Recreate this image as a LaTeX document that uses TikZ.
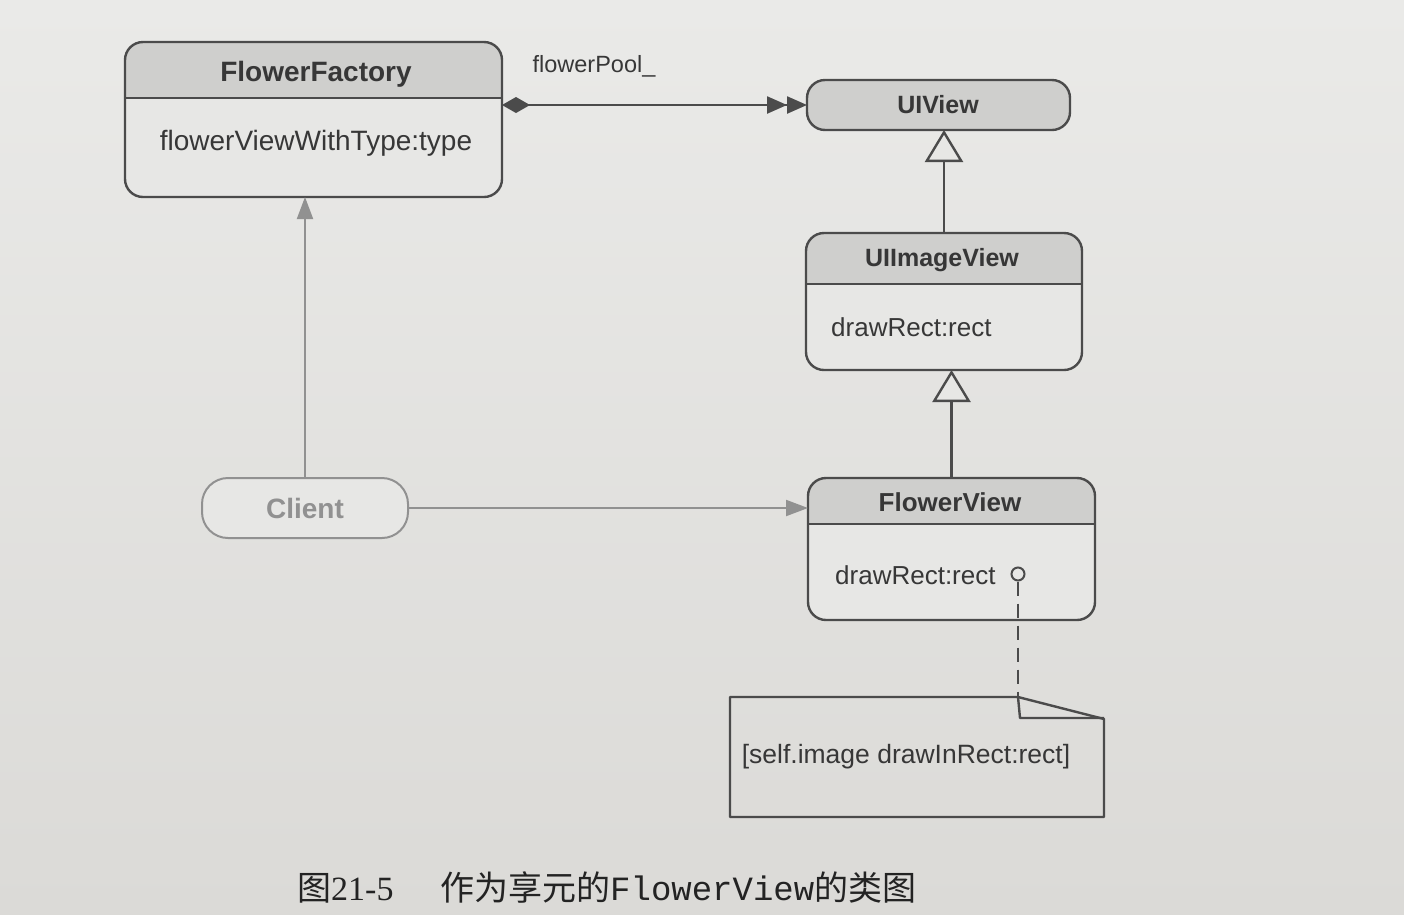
\documentclass[tikz,border=0pt]{standalone}
\usepackage{fontspec}
\setmainfont{Liberation Sans}
\newfontfamily\cjk{Noto Sans CJK SC}
\newfontfamily\capserif{Liberation Serif}
\newfontfamily\capmono{Liberation Mono}
\usetikzlibrary{arrows.meta,calc}
\definecolor{pagetop}{RGB}{234,234,232}
\definecolor{pagebot}{RGB}{219,218,215}
\definecolor{bodyc}{RGB}{231,231,229}
\definecolor{hdrc}{RGB}{207,207,205}
\definecolor{linec}{RGB}{75,75,75}
\definecolor{textc}{RGB}{55,55,55}
\definecolor{clientc}{RGB}{145,145,145}
\definecolor{capc}{RGB}{35,35,35}
\newcommand\classhead[2]{%
  \begin{scope}
    \clip[rounded corners=18pt] (#1.south west) rectangle (#1.north east);
    \fill[hdrc] (#1.north west) rectangle ([yshift=-#2pt]#1.north east);
  \end{scope}
  \draw[conn] ([yshift=-#2pt]#1.north west) -- ([yshift=-#2pt]#1.north east);
  \draw[conn, rounded corners=18pt] (#1.south west) rectangle (#1.north east);}
\begin{document}
\begin{tikzpicture}[x=1pt,y=-1pt,
  classbox/.style={fill=bodyc, inner sep=0pt, outer sep=0pt, rounded corners=18pt},
  conn/.style={draw=linec, line width=2.4pt},
  gconn/.style={draw=clientc, line width=2pt},
  titletext/.style={font=\fontsize{#1}{#1}\selectfont\bfseries, text=textc, inner sep=0pt},
  titletext/.default=25,
  methtext/.style={font=\fontsize{#1}{#1}\selectfont, text=textc, inner sep=0pt},
  methtext/.default=26,
  lbltext/.style={font=\fontsize{23.5}{26}\selectfont, text=textc, inner sep=0pt},
  gentri/.style={-{Triangle[open, length=32pt, width=38pt, fill=bodyc]}},
  gtip/.style={-{Triangle[length=22pt, width=16pt]}}
]
\useasboundingbox (0,0) rectangle (1404,914);
\shade[top color=pagetop, bottom color=pagebot] (0,0) rectangle (1404,914);

% class boxes
\node[classbox, minimum width=377pt, minimum height=155pt] (ff) at (313.5,119.5) {};
\node[classbox, fill=hdrc, minimum width=263pt, minimum height=50pt] (ui) at (938.5,105) {};
\node[classbox, minimum width=276pt, minimum height=137pt] (uiv) at (944,301.5) {};
\node[classbox, minimum width=287pt, minimum height=142pt] (fv) at (951.5,549) {};
\classhead{ff}{56}
\draw[conn, rounded corners=18pt] (ui.south west) rectangle (ui.north east);
\classhead{uiv}{51}
\classhead{fv}{46}

% texts
\node[titletext=28] (ffT) at (316,74) {FlowerFactory};
\node[methtext=28] (ffM) at (316,143) {flowerViewWithType:type};
\node[titletext] (uiT) at (938,105) {UIView};
\node[titletext] (uivT) at (942,260) {UIImageView};
\node[methtext, anchor=west] (uivM) at (831,327) {drawRect:rect};
\node[titletext=26] (fvT) at (950,502) {FlowerView};
\node[methtext, anchor=west] (fvM) at (835,575) {drawRect:rect};

% client
\node[draw=clientc, line width=2pt, fill=bodyc, rounded corners=26pt, minimum width=206pt, minimum height=60pt, outer sep=0pt,
      font=\fontsize{28}{30}\selectfont\bfseries, text=clientc] (client) at (305,508) {Client};

% connectors
\node[lbltext] (pool) at (594,66) {flowerPool\_};
\draw[conn, {Diamond[length=28pt,width=16pt]}-{Triangle[length=20pt,width=17pt]Triangle[length=20pt,width=17pt]}]
  (ff.east |- ui.west) -- (ui.west);
\draw[conn, gentri] (uiv.north) -- (uiv.north |- ui.south);
\draw[conn, gentri] (fv.north) -- (fv.north |- uiv.south);
\draw[gconn, gtip, clientc] (client.north) -- (client.north |- ff.south);
\draw[gconn, gtip, clientc] (client.east) -- (client.east -| fv.west);

% note
\node[draw=linec, line width=2pt, circle, minimum size=13pt, inner sep=0pt, fill=bodyc] (pin) at (1018,574) {};
\node[inner sep=0pt, outer sep=0pt, minimum width=374pt, minimum height=120pt] (note) at (917,757) {};
\draw[conn, dash pattern=on 14pt off 8pt] (pin.south) -- (pin.south |- note.north);
\draw[conn, line join=round] (note.south west) -- (note.north west) -- (pin.south |- note.north)
  -- ($(note.north east)+(0,22)$) -- (note.south east) -- cycle;
\draw[conn, line join=round] (pin.south |- note.north) -- ++(2,21) -- ($(note.north east)+(0,21)$);
\node[methtext=26.5] (noteT) at (906,757) {[self.image drawInRect:rect]};

% caption
\node[anchor=base west, inner sep=0pt, text=capc, font=\fontsize{34}{40}\selectfont] (capnum) at (297,900) {{\cjk 图}{\capserif 21-5}};
\node[anchor=base west, inner sep=0pt, text=capc, font=\fontsize{34}{40}\selectfont] (captxt) at (440,900) {{\cjk 作为享元的}{\capmono FlowerView}{\cjk 的类图}};
\end{tikzpicture}
\end{document}
